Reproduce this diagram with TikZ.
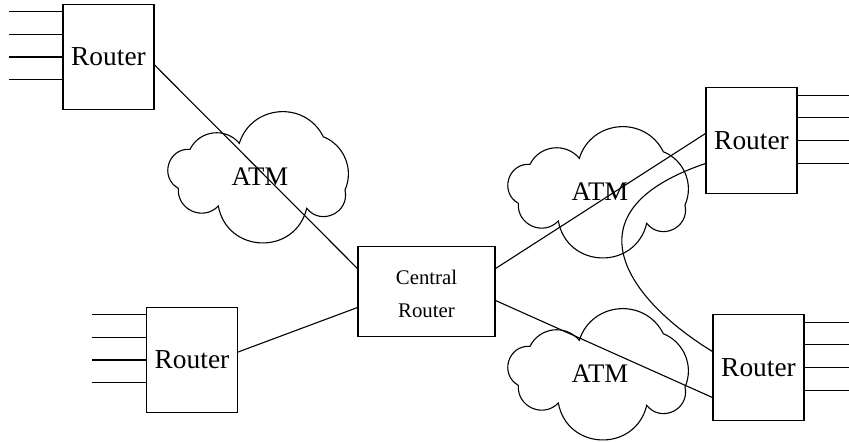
\documentclass[tikz,border=0pt]{standalone}
\usepackage{fontspec}
\setmainfont{Liberation Serif}
\usetikzlibrary{calc}

\tikzset{
    puff/.style={bend left=#1, looseness={1.703/(1+cos(#1))}},
    atmcloud/.pic={
        \draw (-68,-27.7) to[puff=57] (-18.7,-33.7) to[puff=68] (65.3,-40.3)
            to[puff=46] (87,13) to[puff=77] (48.7,31.3)
            to[puff=78] (-39.7,29) to[puff=70] (-79.7,11.3)
            to[puff=77] (-68,-27.7) -- cycle;
        \node [font=\fontsize{13.4}{16}\selectfont] (-label) at (2,0) {ATM};
    }
}

\begin{document}
\begin{tikzpicture}[
    x=0.5pt, y=-0.5pt,
    line width=0.55pt,
    router/.style={
        draw, rectangle, minimum width=45.5pt, minimum height=52.75pt,
        inner sep=0pt, font=\fontsize{13.7}{16}\selectfont
    },
    hub/.style={
        draw, rectangle, minimum width=68.5pt, minimum height=45pt,
        inner sep=0pt, font=\fontsize{10.4}{16.2}\selectfont
    }
]

\useasboundingbox (0,0) rectangle (849,441);

\node [router] (rtl) at (108.5,57) {Router};
\node [router] (rbl) at (192,360) {Router};
\node [router] (rtr) at (751.5,140.5) {Router};
\node [router] (rbr) at (758.5,367.5) {Router};

\node [hub] (central) at (426.5,291.5)
    {\raisebox{-1.6pt}[\height][\depth]{\begin{tabular}{@{}c@{}}Central\\Router\end{tabular}}};

\pic (atm1) at (258,177) {atmcloud};
\pic (atm2) at (598,192) {atmcloud};
\pic (atm3) at (598,374) {atmcloud};

\foreach \dy in {-45.3,-22.7,0,22.7} {
    \draw ($(rtl.west)+(0,\dy)$) -- ++(-53,0);
    \draw ($(rbl.west)+(0,\dy)$) -- ++(-54,0);
    \draw ($(rtr.east)+(0,\dy)$) -- ++(53,0);
    \draw ($(rbr.east)+(0,\dy)$) -- ++(53,0);
}

\draw ($(rtl.east)+(0,8)$) -- ($(central.west)+(0,-23)$);
\draw ($(rbl.east)+(0,-8)$) -- ($(central.west)+(0,16)$);
\draw ($(central.east)+(0,-23)$) -- ($(rtr.west)+(0,-7)$);
\draw ($(central.east)+(0,9)$) -- ($(rbr.west)+(0,30)$);

\draw ($(rtr.west)+(0,23)$) .. controls +(-142,48) and +(-85,-52) .. ($(rbr.west)+(0,-16)$);

\end{tikzpicture}
\end{document}
